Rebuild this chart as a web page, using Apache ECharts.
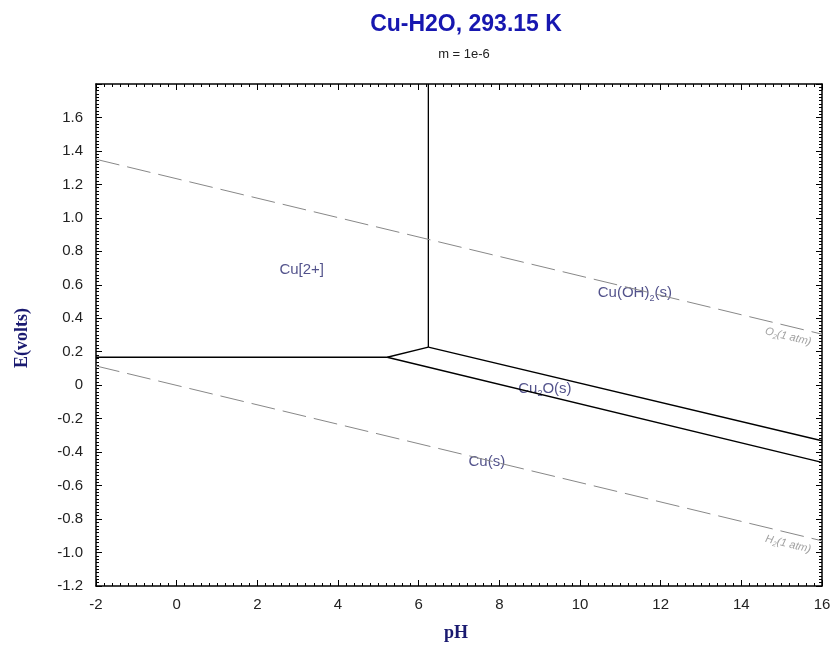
<!DOCTYPE html>
<html>
<head>
<meta charset="utf-8">
<script src="https://cdn.jsdelivr.net/npm/echarts@6/dist/echarts.min.js"></script>
<style>
html,body{margin:0;padding:0;background:#fff;}
#chart{width:834px;height:650px;}
</style>
</head>
<body>
<div id="chart"></div>
<script>
// ---- data (pH, E volts) ----
var titleText = 'Cu-H2O, 293.15 K';
var subtitleText = 'm = 1e-6';
var xTicks = [-2, 0, 2, 4, 6, 8, 10, 12, 14, 16];
var yTicks = [-1.2, -1.0, -0.8, -0.6, -0.4, -0.2, 0, 0.2, 0.4, 0.6, 0.8, 1.0, 1.2, 1.4, 1.6];
var cu2Cu = [[-2, 0.167], [5.22, 0.167]];
var cu2Cu2O = [[5.22, 0.167], [6.24, 0.227]];
var cu2CuOH2 = [[6.24, 0.227], [6.24, 1.8]];
var cuOH2Cu2O = [[6.24, 0.227], [16, -0.332]];
var cu2OCu = [[5.22, 0.167], [16, -0.461]];
var o2Line = [[-2, 1.350], [16, 0.305]];
var h2Line = [[-2, 0.115], [16, -0.930]];
var regionNames = ['Cu[2+]', 'Cu(OH){s|2}(s)', 'Cu{s|2}O(s)', 'Cu(s)'];
var regionAt = [[3.10, 0.69], [11.36, 0.55], [9.13, -0.02], [7.69, -0.457]];
var gasNames = ['O{g|2}(1 atm)', 'H{g|2}(1 atm)'];
var gasAt = [[15.16, 0.29], [15.16, -0.95]];

var chart = echarts.init(document.getElementById('chart'), null, {renderer: 'canvas'});

function axisCommon(showLabels, pos, isX) {
  return {
    type: 'value',
    position: pos,
    min: isX ? -2 : -1.2,
    max: isX ? 16 : 1.8,
    interval: isX ? 2 : 0.2,
    axisLine: {show: true, onZero: false, lineStyle: {color: '#000', width: 1.5}},
    axisTick: {show: true, inside: true, length: 6, lineStyle: {color: '#000', width: 1}},
    minorTick: {show: true, splitNumber: 10, length: 3, lineStyle: {color: '#000', width: 1}},
    splitLine: {show: false},
    minorSplitLine: {show: false},
    axisLabel: {
      show: showLabels,
      fontFamily: 'Liberation Sans, Arial, sans-serif',
      fontSize: 15,
      color: '#222',
      margin: isX ? 11 : 13,
      showMaxLabel: isX ? true : false,
      formatter: function (v) {
        if (isX) return String(v);
        if (Math.abs(v) < 1e-9) return '0';
        return v.toFixed(1);
      }
    }
  };
}

var xMain = axisCommon(true, 'bottom', true);
var xTop = axisCommon(false, 'top', true);
var yMain = axisCommon(true, 'left', false);
var yRight = axisCommon(false, 'right', false);

function solid(data) {
  return {type: 'line', data: data, symbol: 'none', silent: true, animation: false,
    lineStyle: {color: '#000', width: 1.3}, xAxisIndex: 0, yAxisIndex: 0};
}
function dashed(data) {
  return {type: 'line', data: data, symbol: 'none', silent: true, animation: false,
    lineStyle: {color: '#888', width: 1, type: [24, 8]}, xAxisIndex: 0, yAxisIndex: 0};
}

var regionData = regionNames.map(function (n, i) { return {value: regionAt[i], name: n}; });
var gasData = gasNames.map(function (n, i) { return {value: gasAt[i], name: n}; });

var option = {
  backgroundColor: '#fff',
  animation: false,
  title: [
    {text: titleText, left: 461, top: 8, textAlign: 'center',
      textStyle: {fontFamily: 'Liberation Sans, Arial, sans-serif', fontWeight: 'bold', fontSize: 23, color: '#1717b0'}},
    {text: subtitleText, left: 459, top: 43, textAlign: 'center',
      textStyle: {fontFamily: 'Liberation Sans, Arial, sans-serif', fontWeight: 'normal', fontSize: 13, color: '#222'}}
  ],
  grid: {left: 96, right: 12, top: 84, bottom: 64, containLabel: false},
  xAxis: [xMain, xTop],
  yAxis: [yMain, yRight],
  graphic: [
    {type: 'text', left: 444, top: 624,
      style: {text: 'pH', font: 'bold 18px "Liberation Serif", "Times New Roman", serif', fill: '#1a1a70'}},
    {type: 'text', x: 13, y: 368, rotation: Math.PI / 2,
      style: {text: 'E(volts)', font: 'bold 18px "Liberation Serif", "Times New Roman", serif', fill: '#1a1a70'}}
  ],
  series: [
    solid(cu2Cu), solid(cu2Cu2O), solid(cu2CuOH2), solid(cuOH2Cu2O), solid(cu2OCu),
    dashed(o2Line), dashed(h2Line),
    {
      type: 'scatter', data: regionData, symbolSize: 0, silent: true, animation: false,
      label: {show: true, position: 'inside', formatter: '{b}',
        fontFamily: 'Liberation Sans, Arial, sans-serif', fontSize: 15, color: '#27276e',
        rich: {s: {fontSize: 9, color: '#27276e', padding: [10, 0, 0, 0]}}}
    },
    {
      type: 'scatter', data: gasData, symbolSize: 0, silent: true, animation: false,
      label: {show: true, position: 'inside', formatter: '{b}', rotate: -13.6,
        fontFamily: 'Liberation Sans, Arial, sans-serif', fontSize: 11, fontStyle: 'italic', color: '#8a8a8a',
        rich: {g: {fontSize: 7, color: '#8a8a8a', fontStyle: 'italic', padding: [7, 0, 0, 0]}}}
    }
  ]
};
chart.setOption(option);
</script>
</body>
</html>
